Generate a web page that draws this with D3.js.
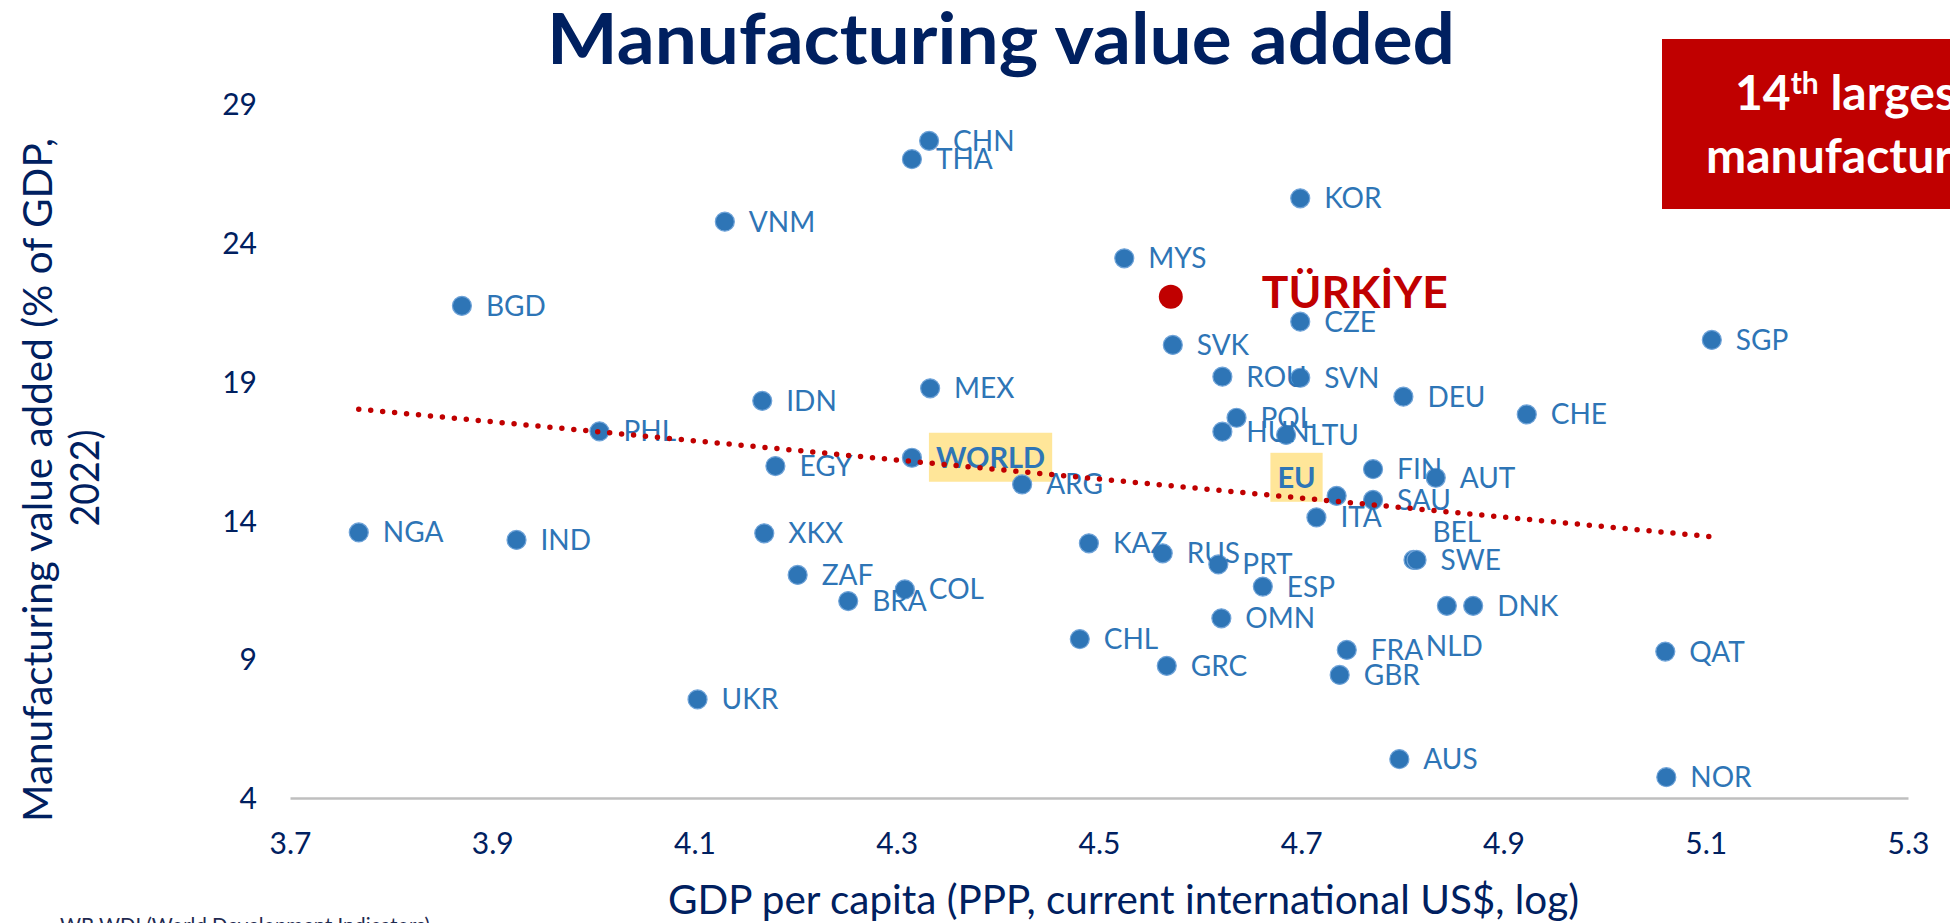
<!DOCTYPE html>
<html><head><meta charset="utf-8">
<script src="https://cdn.jsdelivr.net/npm/d3@7"></script>
<style>
body{margin:0;background:#fff;overflow:hidden;}
svg{display:block;font-family:Lato,"Open Sans",sans-serif;}
</style>
</head><body>
<svg id="chart" width="1950" height="923"></svg>
<script>
// ---------- data ----------
const countries = ["CHN","THA","VNM","KOR","MYS","TÜRKİYE","BGD","CZE","SVK","SGP","ROU","SVN","MEX","DEU","IDN","CHE","POL","HUN","LTU","PHL","WORLD","EGY","FIN","AUT","ARG","EU","SAU","ITA","NGA","XKX","IND","KAZ","RUS","BEL","SWE","PRT","ZAF","ESP","COL","BRA","NLD","DNK","OMN","CHL","FRA","QAT","GRC","GBR","UKR","AUS","NOR"];
const gdpLog = [4.332,4.315,4.130,4.699,4.525,4.571,3.870,4.699,4.573,5.106,4.622,4.699,4.333,4.801,4.167,4.923,4.636,4.622,4.685,4.006,4.315,4.180,4.771,4.833,4.424,4.735,4.771,4.715,3.768,4.169,3.924,4.490,4.563,4.811,4.814,4.618,4.202,4.662,4.308,4.252,4.844,4.870,4.621,4.481,4.745,5.060,4.567,4.738,4.103,4.797,5.061];
const mva = [27.66,27.00,24.75,25.59,23.43,22.05,21.72,21.15,20.31,20.49,19.17,19.13,18.75,18.45,18.30,17.81,17.69,17.19,17.07,17.20,16.25,15.95,15.84,15.53,15.29,14.88,14.73,14.10,13.56,13.53,13.29,13.17,12.81,12.57,12.57,12.41,12.03,11.61,11.51,11.09,10.92,10.92,10.47,9.72,9.33,9.27,8.76,8.43,7.55,5.40,4.75];
const xTicks = [3.7,3.9,4.1,4.3,4.5,4.7,4.9,5.1,5.3];
const yTicks = [4,9,14,19,24,29];
const highlight = "TÜRKİYE";
const aggregates = ["WORLD","EU"];

const titleText = "Manufacturing value added";
const xTitle = "GDP per capita (PPP, current international US$, log)";
const yTitleLines = ["Manufacturing value added (% of GDP,","2022)"];
const boxLine1 = ["14","th"," largest"];
const boxLine2 = "manufacturer";
const footnote = "WB WDI (World Development Indicators)";

// ---------- layout / style ----------
const navy = "#002060", blue = "#2E75B6", red = "#C00000";
const labelNudge = { // px offsets of the label from its default spot
  "EU": {dx:-21, dy:-18, anchor:"end"},
  "BEL": {dx:19, dy:-28},
  "NLD": {dx:-21, dy:40},
  "TÜRKİYE": {dx:91, dy:-4}
};

const svg = d3.select("#chart");
const x = d3.scaleLinear().domain([3.7,5.3]).range([290,1908]);
const y = d3.scaleLinear().domain([4,29]).range([798,103.6]);

const data = countries.map((c,i)=>({name:c, gx:gdpLog[i], mv:mva[i]}));

function fit(sel, w){ sel.attr("textLength", w).attr("lengthAdjust","spacingAndGlyphs"); }

// title
svg.append("text").attr("x",1001).attr("y",64).attr("text-anchor","middle")
  .attr("font-weight",700).attr("font-size",70).attr("fill",navy).text(titleText)
  .call(fit, 908);

// red box
svg.append("rect").attr("x",1662).attr("y",39).attr("width",400).attr("height",170).attr("fill",red);
const b1 = svg.append("text").attr("x",1735).attr("y",110).attr("fill","#fff").attr("font-weight",700).attr("font-size",48);
b1.append("tspan").text(boxLine1[0]);
b1.append("tspan").attr("font-size",30).attr("dy",-16).text(boxLine1[1]);
b1.append("tspan").attr("dy",16).text(boxLine1[2]);
svg.append("text").attr("x",1706).attr("y",173).attr("fill","#fff").attr("font-weight",700).attr("font-size",48).text(boxLine2);

// x axis
const gx = svg.append("g").attr("transform","translate(0,798)")
  .call(d3.axisBottom(x).tickValues(xTicks).tickSize(0).tickSizeOuter(0).tickFormat(d3.format(".1f")));
gx.select(".domain").attr("stroke","#BFBFBF").attr("stroke-width",2.5);
gx.selectAll("text").attr("y",56).attr("dy",0).attr("fill",navy).attr("font-size",30).attr("font-family","Lato");

// y axis
const gy = svg.append("g").attr("transform","translate(290,0)")
  .call(d3.axisLeft(y).tickValues(yTicks).tickSize(0).tickPadding(33).tickFormat(d3.format("d")));
gy.select(".domain").remove();
gy.selectAll("text").attr("dy","0.36em").attr("fill",navy).attr("font-size",30).attr("font-family","Lato");

// axis titles
svg.append("text").attr("x",668).attr("y",914).attr("fill",navy).attr("font-size",40).text(xTitle).call(fit, 911);
const yt = svg.append("g");
yt.append("text").attr("transform","translate(52,480) rotate(-90)").attr("text-anchor","middle")
  .attr("fill",navy).attr("font-size",40).text(yTitleLines[0]).call(fit, 684);
yt.append("text").attr("transform","translate(99,478) rotate(-90)").attr("text-anchor","middle")
  .attr("fill",navy).attr("font-size",40).text(yTitleLines[1]).call(fit, 97);

// footnote
svg.append("text").attr("x",60).attr("y",933).attr("fill","#1F2A50").attr("font-size",22).text(footnote).call(fit,370);

// highlight boxes behind aggregate labels
const labelPos = d => {
  const n = labelNudge[d.name] || {};
  return {x: x(d.gx) + (n.dx!==undefined ? n.dx : 24), y: y(d.mv) + (n.dy||0), anchor: n.anchor||"start"};
};
const boxLayer = svg.append("g");

// points
svg.append("g").selectAll("circle").data(data.filter(d=>d.name!==highlight)).join("circle")
  .attr("cx",d=>x(d.gx)).attr("cy",d=>y(d.mv)).attr("r",9.5)
  .attr("fill",blue).attr("stroke","#6FA3D8").attr("stroke-width",1.2);
const hl = data.filter(d=>d.name===highlight);
svg.append("g").selectAll("circle").data(hl).join("circle")
  .attr("cx",d=>x(d.gx)).attr("cy",d=>y(d.mv)).attr("r",12).attr("fill",red);

// labels
const labels = svg.append("g").selectAll("text").data(data).join("text")
  .attr("x",d=>labelPos(d).x).attr("y",d=>labelPos(d).y).attr("dy","0.358em")
  .attr("text-anchor",d=>labelPos(d).anchor)
  .attr("fill",d=>d.name===highlight?red:blue)
  .attr("font-weight",d=>(d.name===highlight||aggregates.includes(d.name))?700:400)
  .attr("font-size",d=>d.name===highlight?44:(aggregates.includes(d.name)?29:28))
  .text(d=>d.name);
labels.filter(d=>d.name===highlight).call(fit,186);

labels.filter(d=>aggregates.includes(d.name)).each(function(d){
  const bb = this.getBBox();
  const cy = labelPos(d).y;
  boxLayer.append("rect").attr("x",bb.x-7).attr("y",cy-25).attr("width",bb.width+14).attr("height",49).attr("fill","#FFE699");
});

// trend line (least squares over countries)
const pts = data.filter(d=>!aggregates.includes(d.name));
const mx = d3.mean(pts,d=>d.gx), my = d3.mean(pts,d=>d.mv);
const slope = d3.sum(pts,d=>(d.gx-mx)*(d.mv-my))/d3.sum(pts,d=>(d.gx-mx)**2);
const icpt = my - slope*mx;
const ext = d3.extent(pts,d=>d.gx);
svg.append("path").datum(ext.map(v=>[v, icpt+slope*v]))
  .attr("d", d3.line().x(d=>x(d[0])).y(d=>y(d[1])))
  .attr("fill","none").attr("stroke",red).attr("stroke-width",5.5)
  .attr("stroke-linecap","round").attr("stroke-dasharray","0,12");
</script>
</body></html>
